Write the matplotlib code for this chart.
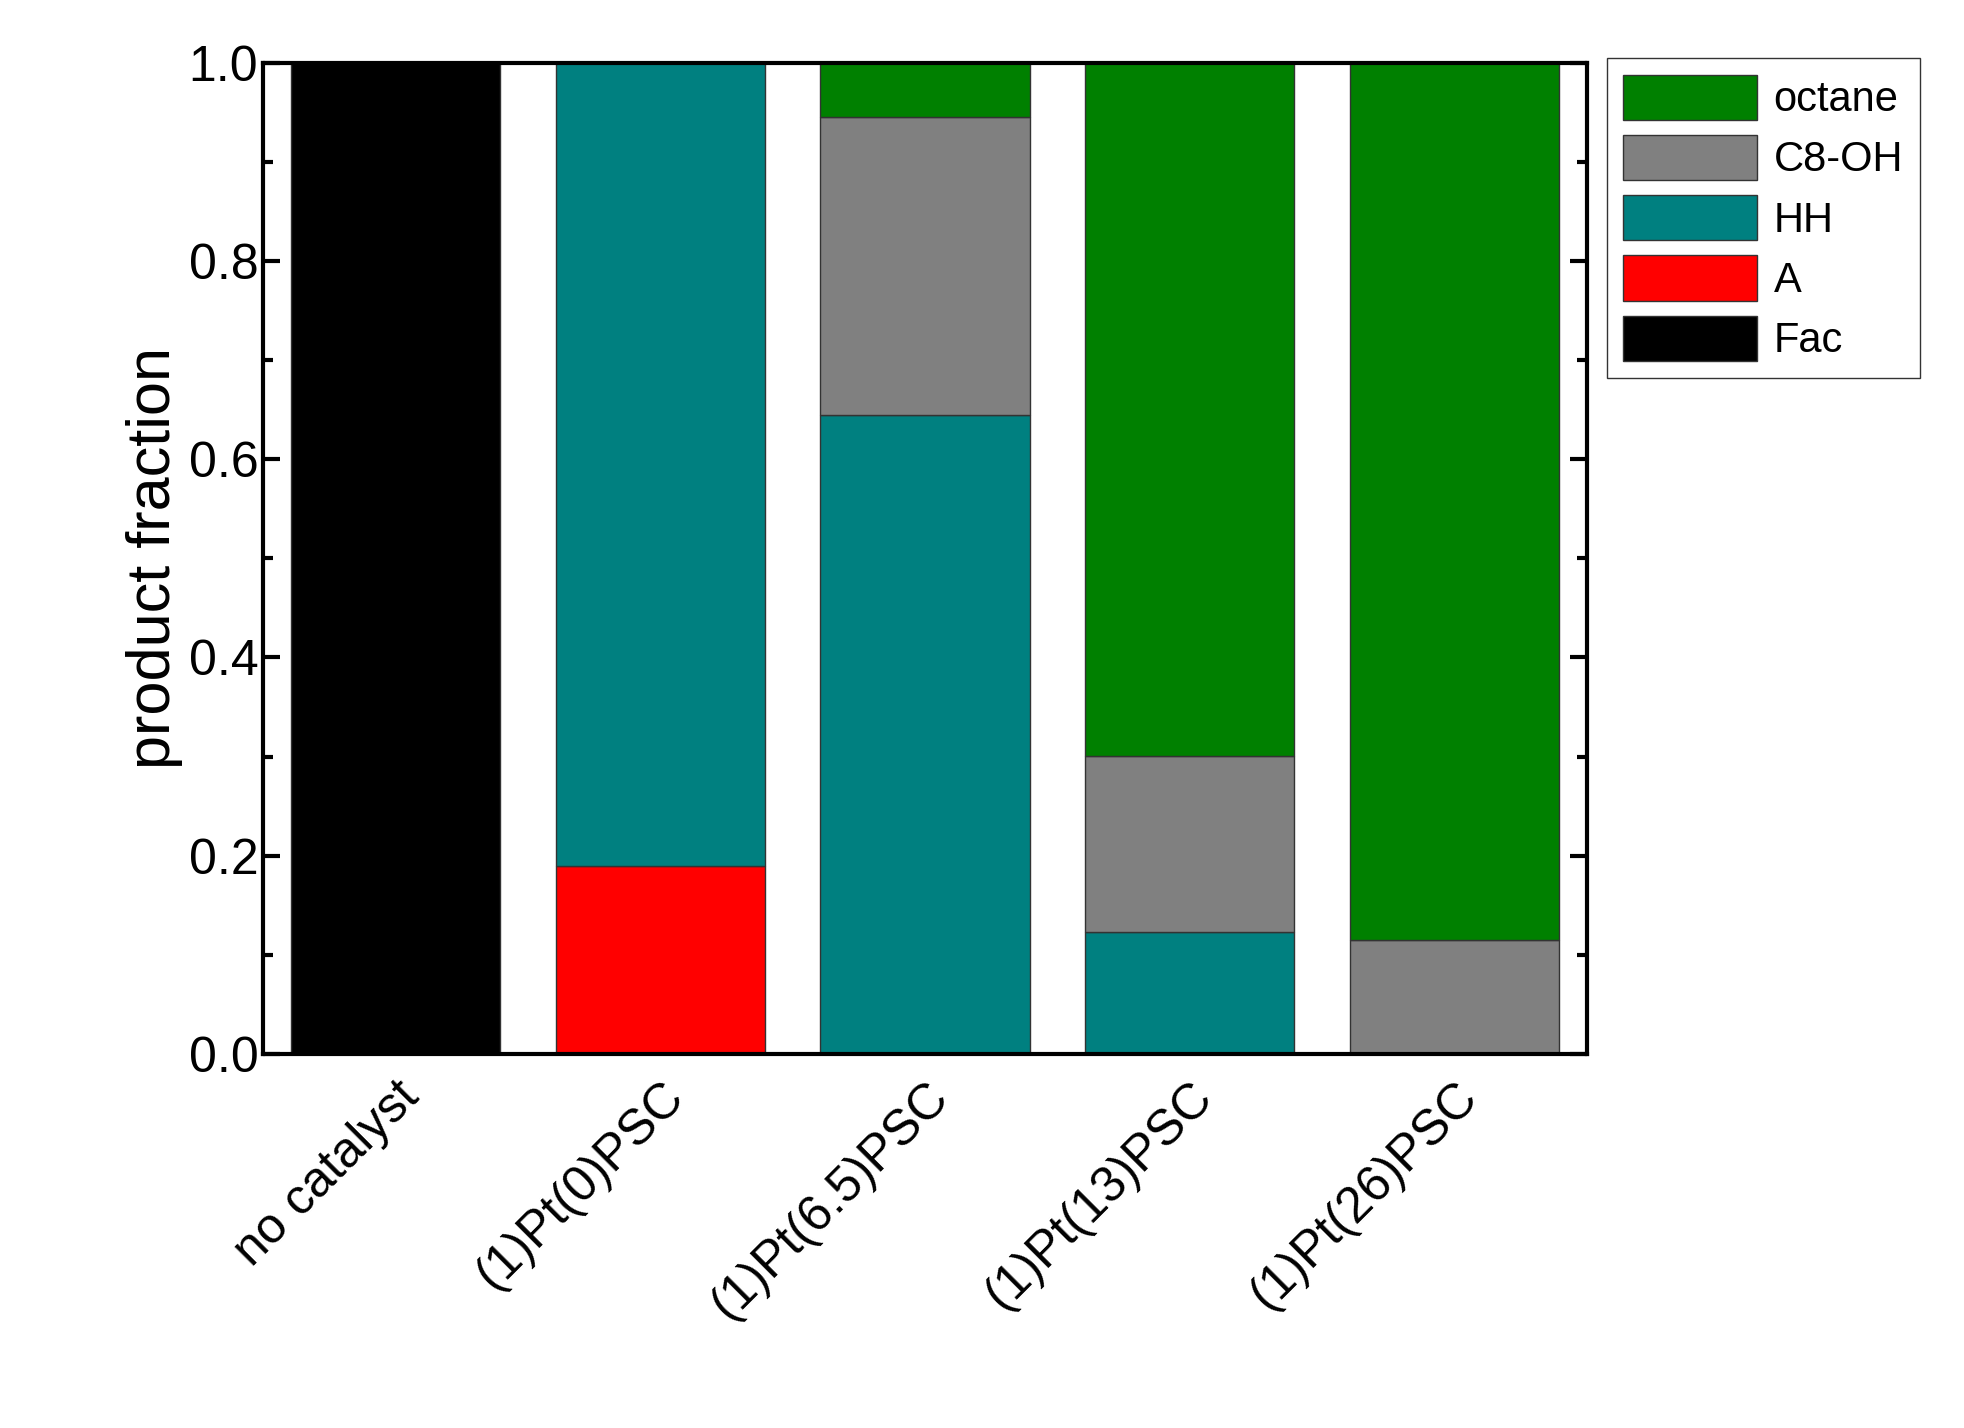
import numpy as np
import matplotlib.pyplot as plt
from matplotlib.patches import Patch

plt.rcParams['font.family'] = ['Liberation Sans', 'DejaVu Sans']

samples = ['no catalyst', '(1)Pt(0)PSC', '(1)Pt(6.5)PSC', '(1)Pt(13)PSC', '(1)Pt(26)PSC']
fac = [1.0, 0, 0, 0, 0]
a = [0, 0.19, 0, 0, 0]
hh = [0, 0.81, 0.645, 0.123, 0]
c8oh = [0, 0, 0.30, 0.178, 0.115]
octane = [0, 0, 0.055, 0.699, 0.885]

series = [('Fac', fac, 'black'), ('A', a, 'red'), ('HH', hh, '#008080'),
          ('C8-OH', c8oh, 'gray'), ('octane', octane, 'green')]

fig = plt.figure(figsize=(19.64, 14.28), dpi=100)
ax = fig.add_axes([0.134, 0.262, 0.674, 0.694])
x = np.arange(len(samples))
bottom = np.zeros(len(samples))
for name, vals, col in series:
    vals = np.array(vals)
    ax.bar(x, vals, 0.79, bottom=bottom, color=col, edgecolor='#333333', linewidth=1)
    bottom += vals

ax.set_xlim(-0.5, 4.5)
ax.set_ylim(0, 1.0)
ax.set_yticks(np.arange(0, 1.01, 0.2))
ax.set_yticks(np.arange(0.1, 1.0, 0.2), minor=True)
ax.set_yticklabels(['%.1f' % v for v in np.arange(0, 1.01, 0.2)])
ax.set_xticks(x)
ax.set_xticklabels(samples, rotation=45, ha='right', rotation_mode='anchor')
ax.tick_params(axis='y', which='major', direction='in', length=12, width=3, right=True, labelsize=36)
ax.tick_params(axis='y', which='minor', direction='in', length=7, width=3, right=True)
ax.tick_params(axis='x', length=0, labelsize=36, pad=14)
for s in ax.spines.values():
    s.set_linewidth(3)
ax.set_ylabel('product fraction', fontsize=44)

handles = [Patch(facecolor=c, edgecolor='#333333', label=n) for n, _, c in series[::-1]]
ax.legend(handles=handles, loc='upper left', bbox_to_anchor=(1.015, 1.005), fontsize=30,
          frameon=True, fancybox=False, edgecolor='black', handlelength=3.2, handleheight=1.3,
          borderaxespad=0, labelspacing=0.35, handletextpad=0.4)

fig.savefig('out.png', dpi=100)
